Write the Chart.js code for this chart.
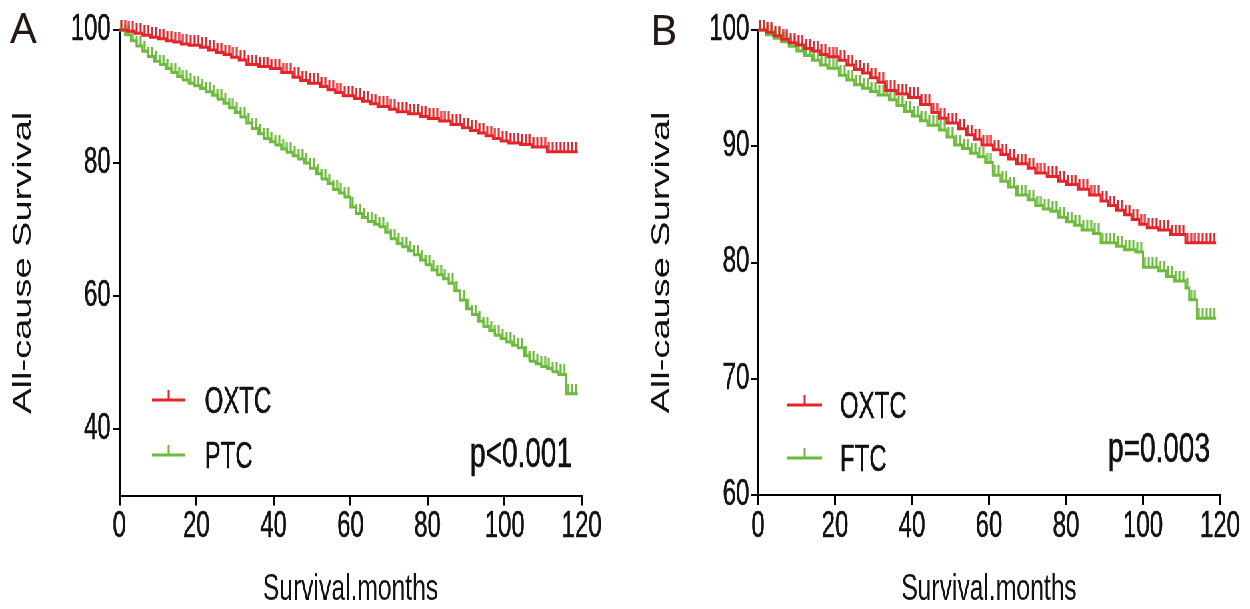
<!DOCTYPE html>
<html><head><meta charset="utf-8">
<script src="https://cdn.jsdelivr.net/npm/chart.js@4.4.0/dist/chart.umd.min.js"></script>
<style>
html,body{margin:0;padding:0;background:#fff;overflow:hidden;width:1250px;height:609px;}
#stage{position:absolute;left:0;top:0;width:1875px;height:609px;transform:scaleX(0.6666667);transform-origin:0 0;}
#stage canvas{position:absolute;top:0;}
.lbl{position:absolute;font-family:'Noto Sans','Liberation Sans',sans-serif;font-size:42px;line-height:1;color:#231815;}
</style></head>
<body>
<div id="stage">
<canvas id="cA" width="938" height="609" style="left:0;width:938px;height:609px"></canvas>
<canvas id="cB" width="937" height="609" style="left:938px;width:937px;height:609px"></canvas>
</div>
<div class="lbl" style="left:10px;top:6px">A</div>
<div class="lbl" style="left:650px;top:8px">B</div>
<script>
// ---------- data ----------
const xTicks = [0, 20, 40, 60, 80, 100, 120];
const yTicksA = [40, 60, 80, 100];
const yTicksB = [60, 70, 80, 90, 100];
const xTitle = 'Survival.months';
const yTitle = 'All-cause Survival';
const groupNamesA = ['OXTC', 'PTC'];
const groupNamesB = ['OXTC', 'FTC'];
const pTextA = 'p<0.001';
const pTextB = 'p=0.003';

const oxtcMonths = [0,2,4,6,8,10,12,14,16,18,21,23,25,27,29,31,33,36,39,42,45,47,49,52,54,56,58,61,63,65,67,70,72,75,78,80,83,86,89,91,93,95,97,99,101,104,107,111,119];
const oxtcSurv   = [100,99.8,99.5,99.2,98.9,98.7,98.4,98.2,97.9,97.7,97.4,97.0,96.6,96.3,95.9,95.5,94.8,94.5,94.2,93.6,92.9,92.4,92.0,91.5,91.0,90.6,90.1,89.7,89.3,88.9,88.5,88.1,87.7,87.4,87.0,86.7,86.3,85.8,85.3,84.9,84.5,84.1,83.7,83.3,83.0,82.8,82.4,81.7,81.7];

const ptcMonths = [0,1.5,3,4.5,6,7.5,9,10.5,12,13.5,15,16.5,18,19.5,21,22.5,24,25.5,27,28.5,30,31.5,33,34.5,36,37.5,39,40.5,42,43.5,45,46.5,48,49.5,51,52.5,54,55.5,57,58.5,60,61.5,63,64.5,66,67.5,69,70.5,72,73.5,75,76.5,78,79.5,81,82.5,84,85.5,87,88.5,90,91.5,93,94.5,96,97.5,99,100.5,102,103.5,105,106.5,108,109.5,111,112.5,114,116,119];
const ptcSurv   = [100,99.3,98.4,97.6,96.8,96.0,95.3,94.8,94.2,93.6,93.0,92.5,92.0,91.6,91.2,90.7,90.2,89.6,89.0,88.3,87.6,86.9,86.0,85.2,84.4,83.7,83.2,82.7,82.1,81.6,81.1,80.6,80.0,79.2,78.4,77.6,76.9,76.0,75.5,74.9,73.4,72.4,71.8,71.2,70.8,70.4,69.6,68.6,67.9,67.4,66.8,66.2,65.4,64.7,63.9,63.2,62.6,61.9,60.8,59.4,58.1,57.2,56.2,55.4,54.8,54.1,53.6,53.1,52.6,52.2,51.0,50.2,49.8,49.4,49.1,48.6,48.2,45.3,45.3];

const ftcMonths = [0,2,4,6,8,10,12,14,16,18,21,23,25,27,29,31,34,36,38,40,42,44,47,49,51,53,55,57,59,61,63,65,67,70,72,74,76,78,80,82,84,87,89,93,95,98,100,104,106,108,111,112,114,119];
const ftcSurv   = [100,99.6,99.3,99.0,98.6,98.2,97.8,97.4,97.0,96.7,96.1,95.7,95.3,95.0,94.7,94.4,94.0,93.5,93.0,92.6,92.2,91.8,91.4,90.8,90.1,89.8,89.4,89.1,88.6,87.5,87.0,86.5,85.8,85.4,84.9,84.6,84.4,83.9,83.5,83.2,82.8,82.5,81.7,81.4,81.1,80.9,79.6,79.3,78.8,78.4,77.8,76.8,75.2,75.2];

const censorMonths = [0.5,1.5,2.5,3.5,4.5,5.5,6.5,7.5,8.5,9.5,10.5,11.5,12.5,13.5,14.5,15.5,16.5,17.5,18.5,19.5,20.5,21.5,22.5,23.5,24.5,25.5,26.5,27.5,28.5,29.5,30.5,31.5,32.5,33.5,34.5,35.5,36.5,37.5,38.5,39.5,40.5,41.5,42.5,43.5,44.5,45.5,46.5,47.5,48.5,49.5,50.5,51.5,52.5,53.5,54.5,55.5,56.5,57.5,58.5,59.5,60.5,61.5,62.5,63.5,64.5,65.5,66.5,67.5,68.5,69.5,70.5,71.5,72.5,73.5,74.5,75.5,76.5,77.5,78.5,79.5,80.5,81.5,82.5,83.5,84.5,85.5,86.5,87.5,88.5,89.5,90.5,91.5,92.5,93.5,94.5,95.5,96.5,97.5,98.5,99.5,100.5,101.5,102.5,103.5,104.5,105.5,106.5,107.5,108.5,109.5,110.5,111.5,112.5,113.5,114.5,115.5,116.5,117.5,118.5];

// ---------- styles ----------
const RED = '#E3242B';
const GREEN = '#6CBB3C';
const INK = '#111111';
const FONT = '"Liberation Sans", Arial, Helvetica, sans-serif';

function curve(ms, ss) { return ms.map((m, i) => ({x: m, y: ss[i]})); }
function survAt(ms, ss, t) { let v = ss[0]; for (let i = 0; i < ms.length; i++) { if (ms[i] <= t) v = ss[i]; } return v; }
function censors(ms, ss) { return censorMonths.map(t => ({x: t, y: survAt(ms, ss, t)})); }
function tickImg(color) {
  const c = document.createElement('canvas'); c.width = 4; c.height = 20;
  const g = c.getContext('2d'); g.strokeStyle = color; g.lineWidth = 3;
  g.beginPath(); g.moveTo(2, 0); g.lineTo(2, 10); g.stroke(); return c;
}
const redTick = tickImg(RED), greenTick = tickImg(GREEN);

const decor = {
  id: 'decor',
  afterDraw(chart, args, o) {
    const ctx = chart.ctx;
    ctx.save();
    o.items.forEach((it, i) => {
      const y = o.legendY[i];
      ctx.strokeStyle = it.color; ctx.lineWidth = 3;
      ctx.beginPath(); ctx.moveTo(o.lineX0, y); ctx.lineTo(o.lineX1, y); ctx.stroke();
      const cx = (o.lineX0 + o.lineX1) / 2;
      ctx.lineWidth = 3; ctx.beginPath(); ctx.moveTo(cx, y); ctx.lineTo(cx, y - 10); ctx.stroke();
      ctx.fillStyle = INK; ctx.strokeStyle = INK; ctx.lineWidth = 0.5;
      ctx.font = '36px ' + FONT; ctx.textAlign = 'left'; ctx.textBaseline = 'alphabetic';
      ctx.fillText(it.label, o.textX, y + 13);
      ctx.strokeText(it.label, o.textX, y + 13);
    });
    ctx.fillStyle = INK; ctx.strokeStyle = INK; ctx.lineWidth = 0.5;
    ctx.font = '42px ' + FONT; ctx.textAlign = 'right'; ctx.textBaseline = 'alphabetic';
    ctx.fillText(o.pText, o.pX, o.pY);
    ctx.strokeText(o.pText, o.pX, o.pY);
    ctx.restore();
  }
};

function makeChart(id, cfg) {
  const ds = [];
  cfg.series.forEach(s => {
    ds.push({label: s.name, data: curve(s.months, s.surv), borderColor: s.color, borderWidth: 3,
             stepped: 'before', pointRadius: 0, fill: false, clip: false});
  });
  cfg.series.forEach(s => {
    ds.push({label: s.name + ' censored', data: censors(s.months, s.surv), showLine: false,
             pointStyle: s.tick, pointRadius: 3, clip: false});
  });
  return new Chart(document.getElementById(id), {
    type: 'line',
    data: {datasets: ds},
    plugins: [decor],
    options: {
      responsive: false, animation: false, devicePixelRatio: 1, events: [],
      layout: {padding: {left: 0, top: 30, right: cfg.padRight, bottom: 0}},
      plugins: {legend: {display: false}, tooltip: {enabled: false},
        decor: {items: cfg.series.map(s => ({label: s.name, color: s.color})),
                legendY: cfg.legendY, lineX0: cfg.lineX0, lineX1: cfg.lineX1, textX: cfg.textX,
                pText: cfg.pText, pX: cfg.pX, pY: cfg.pY}},
      scales: {
        x: {type: 'linear', min: 0, max: 120,
            afterBuildTicks: s => { s.ticks = xTicks.map(v => ({value: v})); },
            afterFit: s => { s.height = cfg.xHeight; },
            ticks: {autoSkip: false, maxRotation: 0, color: INK, padding: 0, textStrokeColor: INK, textStrokeWidth: 0.5, font: {family: FONT, size: 36}},
            grid: {drawOnChartArea: false, drawTicks: true, tickLength: 10, color: '#000', lineWidth: 3},
            border: {display: true, color: '#000', width: 2},
            title: {display: true, text: xTitle, color: INK, font: {family: FONT, size: 37, lineHeight: 1}, padding: {top: 0, bottom: 1}}},
        y: {type: 'linear', min: cfg.yMin, max: 100,
            afterBuildTicks: s => { s.ticks = cfg.yTicks.map(v => ({value: v})); },
            afterFit: s => { s.width = cfg.yWidth; },
            ticks: {color: INK, padding: 3, textStrokeColor: INK, textStrokeWidth: 0.5, font: {family: FONT, size: 36}},
            grid: {drawOnChartArea: false, drawTicks: true, tickLength: 10, color: '#000', lineWidth: 2},
            border: {display: true, color: '#000', width: 3},
            title: {display: true, text: yTitle, color: INK, font: {family: FONT, size: 38, lineHeight: 1}, padding: {top: cfg.yTitlePad, bottom: 0}}}
      }
    }
  });
}

makeChart('cA', {
  series: [
    {name: groupNamesA[0], months: oxtcMonths, surv: oxtcSurv, color: RED, tick: redTick},
    {name: groupNamesA[1], months: ptcMonths, surv: ptcSurv, color: GREEN, tick: greenTick}
  ],
  yMin: 30, yTicks: yTicksA, yWidth: 179, xHeight: 113.5, padRight: 65.5, yTitlePad: 17,
  legendY: [400, 455], lineX0: 228, lineX1: 278, textX: 307,
  pText: pTextA, pX: 858, pY: 467
});
makeChart('cB', {
  series: [
    {name: groupNamesB[0], months: oxtcMonths, surv: oxtcSurv, color: RED, tick: redTick},
    {name: groupNamesB[1], months: ftcMonths, surv: ftcSurv, color: GREEN, tick: greenTick}
  ],
  yMin: 60, yTicks: yTicksB, yWidth: 199, xHeight: 114, padRight: 45, yTitlePad: 37,
  legendY: [405, 458], lineX0: 243, lineX1: 295, textX: 322,
  pText: pTextB, pX: 877, pY: 462
});
</script>
</body></html>
